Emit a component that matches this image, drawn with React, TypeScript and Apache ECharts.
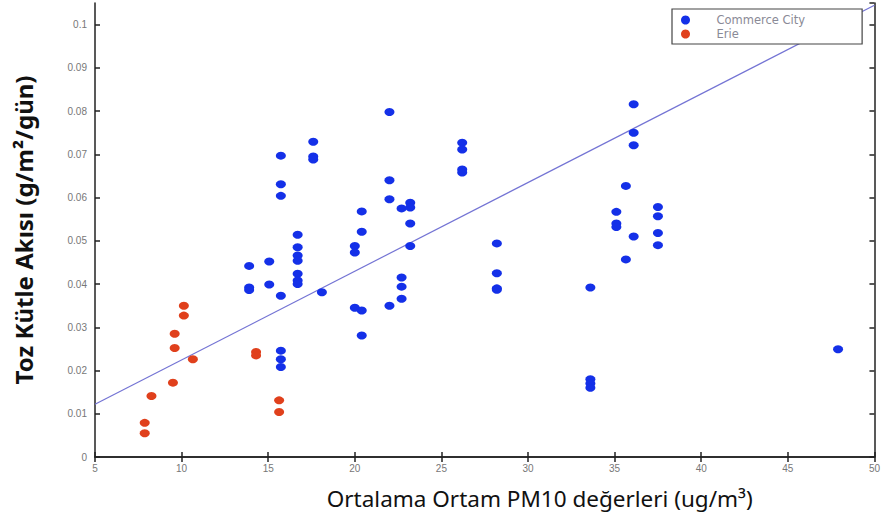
import React, { useEffect, useRef } from "react";
import * as echarts from "echarts";

const commerceX = [
  13.9, 13.9, 13.9,
  15.06, 15.06,
  15.73, 15.73, 15.73, 15.73, 15.73, 15.73, 15.73,
  16.7, 16.7, 16.7, 16.7, 16.7, 16.7, 16.7,
  17.6, 17.6, 17.6,
  18.1,
  20.0, 20.0, 20.0,
  20.4, 20.4, 20.4, 20.4,
  22.0, 22.0, 22.0, 22.0,
  22.7, 22.7, 22.7, 22.7,
  23.2, 23.2, 23.2, 23.2,
  26.2, 26.2, 26.2, 26.2,
  28.2, 28.2, 28.2, 28.2,
  33.6, 33.6, 33.6, 33.6,
  35.1, 35.1, 35.1,
  35.65, 35.65,
  36.1, 36.1, 36.1, 36.1,
  37.5, 37.5, 37.5, 37.5,
  47.9,
];
const commerceY = [
  0.0442, 0.0392, 0.0386,
  0.0452, 0.0399,
  0.0697, 0.0631, 0.0604, 0.0373, 0.0246, 0.0226, 0.0208,
  0.0514, 0.0485, 0.0466, 0.0454, 0.0424, 0.0408, 0.04,
  0.0729, 0.0695, 0.0688,
  0.0381,
  0.0488, 0.0473, 0.0345,
  0.0568, 0.0521, 0.0339, 0.0281,
  0.0798, 0.064, 0.0596, 0.035,
  0.0575, 0.0415, 0.0394, 0.0366,
  0.0588, 0.0577, 0.054, 0.0488,
  0.0727, 0.0711, 0.0665, 0.0658,
  0.0494, 0.0425, 0.039, 0.0387,
  0.0392, 0.018, 0.017, 0.016,
  0.0567, 0.054, 0.0532,
  0.0627, 0.0457,
  0.0816, 0.075, 0.0721, 0.051,
  0.0578, 0.0557, 0.0518, 0.049,
  0.0249,
];
const erieX = [7.87, 7.87, 8.26, 9.5, 9.6, 9.6, 10.13, 10.13, 10.65, 14.3, 14.3, 15.63, 15.63];
const erieY = [0.0079, 0.0055, 0.0141, 0.0172, 0.0252, 0.0285, 0.0327, 0.035, 0.0226, 0.0243, 0.0235, 0.0131, 0.0104];
const fitX = [5, 50];
const fitY = [0.0122, 0.1045];

const xTitle = "Ortalama Ortam PM10 değerleri (ug/m³)";
const yTitle = "Toz Kütle Akısı (g/m²/gün)";

export default function App() {
  const ref = useRef<HTMLDivElement>(null);
  useEffect(() => {
    document.body.style.margin = "0";
    const chart = echarts.init(ref.current!, undefined, { renderer: "svg" });
    const axisLine = { show: true, lineStyle: { color: "#222", width: 1.5 } };
    const tick = { show: true, inside: true, length: 5, lineStyle: { color: "#222", width: 1.5 } };
    const lbl = { color: "#777", fontSize: 10, fontFamily: "Liberation Sans" };
    chart.setOption({
      animation: false,
      backgroundColor: "#fff",
      grid: { left: 95, right: 5, top: 3, bottom: 58, containLabel: false },
      legend: {
        orient: "vertical",
        left: 672,
        top: 9,
        backgroundColor: "#fff",
        borderColor: "#444",
        borderWidth: 1.2,
        borderRadius: 0,
        padding: [4, 57, 3, 9],
        itemWidth: 52,
        itemHeight: 9,
        itemGap: 0,
        textStyle: { color: "#8a8a96", fontSize: 11.5, lineHeight: 14, fontFamily: "DejaVu Sans" },
        data: ["Commerce City", "Erie"],
      },
      xAxis: [
        {
          type: "value", min: 5, max: 50, interval: 5, position: "bottom",
          axisLine, axisTick: tick, splitLine: { show: false },
          axisLabel: { ...lbl, margin: 6 },
          name: xTitle, nameLocation: "middle", nameGap: 30,
          nameTextStyle: { fontSize: 22.5, color: "#111", fontFamily: "Noto Sans", padding: [0, 0, 0, 110] },
        },
        {
          type: "value", min: 5, max: 50, interval: 5, position: "top",
          axisLine, axisTick: tick, splitLine: { show: false }, axisLabel: { show: false },
        },
      ],
      yAxis: [
        {
          type: "value", min: 0, max: 0.105, interval: 0.01, position: "left",
          axisLine, axisTick: tick, splitLine: { show: false },
          axisLabel: { ...lbl, margin: 8, showMaxLabel: false },
          name: yTitle, nameLocation: "middle", nameGap: 60,
          nameTextStyle: { fontSize: 24, fontWeight: "bold", color: "#111", fontFamily: "Noto Sans" },
        },
        {
          type: "value", min: 0, max: 0.105, interval: 0.01, position: "right",
          axisLine, axisTick: tick, splitLine: { show: false }, axisLabel: { show: false },
        },
      ],
      series: [
        {
          name: "Commerce City", type: "scatter", symbol: "circle", symbolSize: [10, 8],
          itemStyle: { color: "#1430e8", opacity: 1 },
          data: commerceX.map((x, i) => [x, commerceY[i]]),
          z: 3,
        },
        {
          name: "Erie", type: "scatter", symbol: "circle", symbolSize: [10, 8],
          itemStyle: { color: "#e0401c", opacity: 1 },
          data: erieX.map((x, i) => [x, erieY[i]]),
          z: 3,
        },
        {
          name: "fit", type: "line", showSymbol: false, symbol: "none",
          lineStyle: { color: "#7474d4", width: 1.2 },
          data: fitX.map((x, i) => [x, fitY[i]]),
          z: 2, silent: true,
        },
      ],
    });
    return () => chart.dispose();
  }, []);
  return <div ref={ref} style={{ width: 883, height: 515 }} />;
}
